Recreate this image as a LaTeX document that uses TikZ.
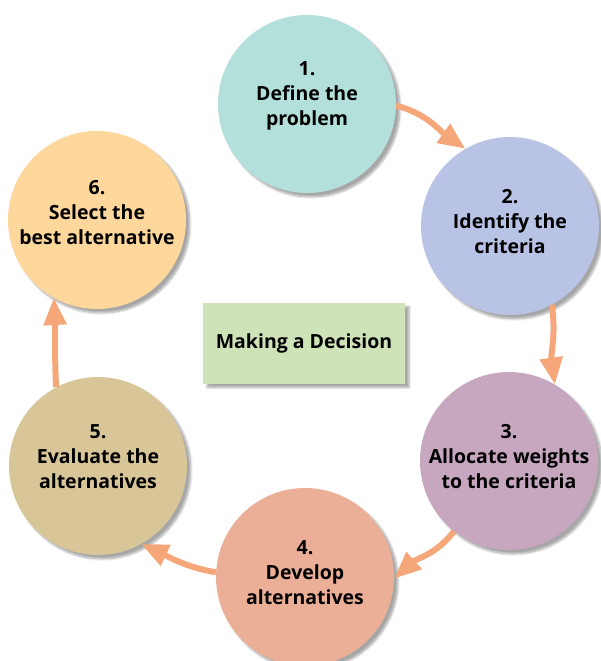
\documentclass[tikz,border=0pt]{standalone}
\usepackage{fontspec}
\setmainfont{Open Sans}
\usepackage{tikz}
\usetikzlibrary{positioning,shadows.blur}
\usetikzlibrary{arrows.meta}
\tikzset{>={Triangle[width=22pt,length=27pt]}}

\definecolor{stepone}{HTML}{B3E0DA}
\definecolor{steptwo}{HTML}{B9C3E5}
\definecolor{stepthree}{HTML}{C7A6BF}
\definecolor{stepfour}{HTML}{EBAF98}
\definecolor{stepfive}{HTML}{D8C698}
\definecolor{stepsix}{HTML}{FDD79C}
\definecolor{centrebox}{HTML}{CEE4B8}
\definecolor{flowcol}{HTML}{F5A77A}

\begin{document}
\begin{tikzpicture}[x=1pt, y=-1pt]
  \tikzstyle{snode} = [circle, minimum size=178pt, inner sep=0pt,
    blur shadow={shadow xshift=4pt, shadow yshift=-4pt, shadow opacity=35, shadow blur steps=8}]
  \tikzstyle{tnode} = [align=center, font=\bfseries\fontsize{19.5}{25}\selectfont]
  \tikzstyle{flow} = [->, flowcol, line width=6pt]

  \useasboundingbox (0,0) rectangle (601,661);

  % steps round the cycle
  \node[snode, fill=stepone]   (c1) at (307,104) {};
  \node[snode, fill=steptwo]   (c2) at (510,226) {};
  \node[snode, fill=stepthree] (c3) at (509,461) {};
  \node[snode, fill=stepfour]  (c4) at (305,577) {};
  \node[snode, fill=stepfive]  (c5) at (98,466) {};
  \node[snode, fill=stepsix]   (c6) at (97,220) {};

  \node[tnode] (t1) at (307,96) {1.\\Define the\\problem};
  \node[tnode] (t2) at (510,222) {2.\\Identify the\\criteria};
  \node[tnode] (t3) at (509,457) {3.\\Allocate weights\\to the criteria};
  \node[tnode] (t4) at (305,573) {4.\\Develop\\alternatives};
  \node[tnode] (t5) at (98,457) {5.\\Evaluate the\\alternatives};
  \node[tnode] (t6) at (97,213) {6.\\Select the\\best alternative};

  % centre box
  \node[tnode, fill=centrebox, minimum width=202pt, minimum height=81pt,
    blur shadow={shadow xshift=4pt, shadow yshift=-4pt, shadow opacity=35, shadow blur steps=8}]
    (mk) at (304,343) {Making a Decision};

  \draw[flow] (c1.-1) to[out=-15, in=145] (c2.120);
  \draw[flow] (c2.-62) to[out=-82, in=98] (c3.59);
  \draw[flow] (c3.-128) to[out=-128, in=42] (c4.-1);
  \draw[flow] (c4.177) to[out=170, in=-25] (c5.-61);
  \draw[flow] (c5.118) to[out=93, in=-87] (c6.-119);
\end{tikzpicture}
\end{document}
